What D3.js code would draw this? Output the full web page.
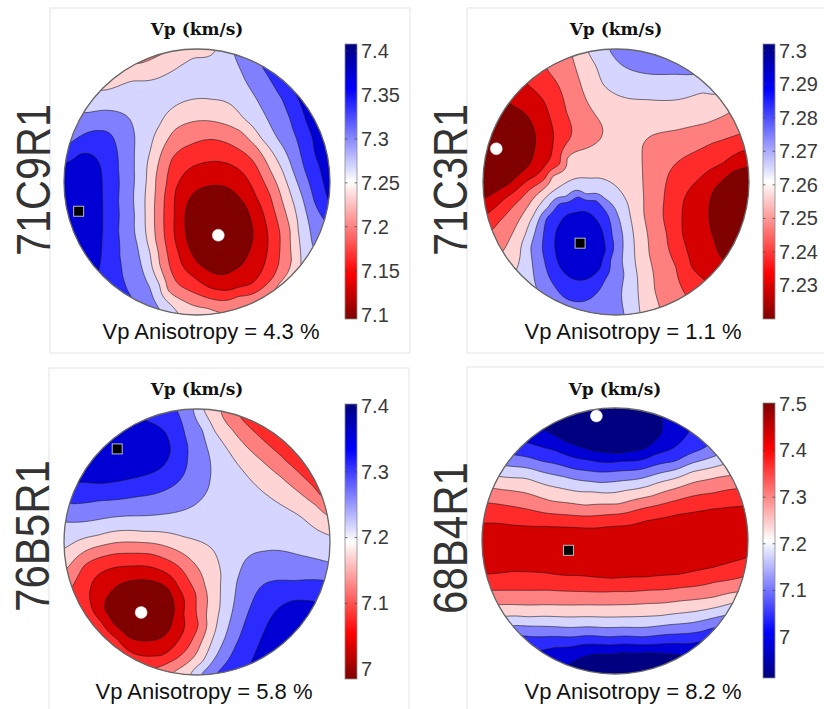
<!DOCTYPE html>
<html>
<head>
<meta charset="utf-8">
<script src="https://cdn.jsdelivr.net/npm/d3@7"></script>
<style>
  body { margin: 0; background: #fff; }
  svg { display: block; font-family: "Liberation Sans", Arial, sans-serif; }
</style>
</head>
<body>
<svg id="chart" width="824" height="709"></svg>
<script>
// Vp pole figures (lower hemisphere), four samples
// positions below are in % of the stereonet radius (x right, y down)

const sampleIds = ['71C9R1', '71C3R1', '76B5R1', '68B4R1'];
const vpLimits = [[7.095, 7.408], [7.220, 7.302], [6.985, 7.403], [6.912, 7.502]];
const anisotropy = ['4.3', '1.1', '5.8', '8.2'];
const cbTicks = [
    [7.1, 7.15, 7.2, 7.25, 7.3, 7.35, 7.4],
    [7.23, 7.24, 7.25, 7.26, 7.27, 7.28, 7.29, 7.3],
    [7, 7.1, 7.2, 7.3, 7.4],
    [7, 7.1, 7.2, 7.3, 7.4, 7.5]
];
const reversedMap = [false, false, false, true];
const vpMinPos = [[16, 40], [-90, -25], [-42, 53], [-14, -94]];
const vpMaxPos = [[-89, 22], [-27, 46], [-60, -70], [-35, 7]];

// contour traces: [level index (1..8), points]
const iso71C9R1 = [
    [1, [[-9,25],[-3,9],[10,3],[26,6],[37,19],[42,38],[38,55],[28,66],[14,69],[1,61],[-7,46]]],
    [2, [[-17,25],[-16,6],[-7,-9],[8,-15],[23,-14],[36,-5],[45,12],[52,32],[53,51],[49,66],[40,77],[26,81],[11,80],[-3,71],[-14,53]]],
    [3, [[-25,25],[-23,2],[-19,-17],[-5,-28],[11,-32],[29,-26],[44,-13],[55,10],[61,32],[62,55],[57,72],[46,82],[31,86],[11,88],[-5,82],[-19,68],[-23,50]]],
    [4, [[-32,25],[-31,-2],[-26,-24],[-17,-39],[1,-46],[19,-44],[33,-38],[45,-26],[55,-9],[64,14],[70,36],[71,59],[62,76],[48,90],[35,99],[22,99],[8,95],[-7,91],[-22,81],[-28,62],[-31,44]]],
    [5, [[-13,104],[-14,99],[-20,92],[-28,78],[-35,55],[-39,25],[-38,-2],[-35,-24],[-28,-43],[-18,-56],[-4,-62],[12,-62],[27,-57],[36,-47],[49,-32],[64,-9],[72,14],[76,36],[78,55],[78,62],[80,66]]],
    [5, [[-77,-72],[-73,-69],[-62,-71],[-48,-76],[-23,-81],[-13,-87],[-3,-93],[14,-99],[16,-104]]],
    [4, [[-50,-90],[-45,-89],[-35,-92],[-25,-97],[-20,-100]]],
    [6, [[-88,-54],[-85,-52],[-70,-54],[-55,-51],[-48,-41],[-47,-24],[-47,-2],[-47,25],[-45,47],[-41,66],[-35,81],[-28,96],[-26,101]]],
    [6, [[27,-100],[28,-96],[31,-88],[36,-77],[45,-62],[53,-47],[61,-32],[72,-9],[80,14],[85,36],[87,48],[90,52]]],
    [7, [[-99,-30],[-96,-29],[-80,-38],[-66,-37],[-61,-28],[-59,-9],[-59,14],[-59,36],[-58,55],[-56,70],[-52,82],[-49,87],[-47,92]]],
    [7, [[47,-92],[49,-87],[55,-77],[64,-62],[70,-47],[75,-32],[81,-9],[88,14],[96,29],[99,33]]],
    [8, [[-102,-14],[-99,-14],[-88,-21],[-77,-19],[-72,-9],[-71,14],[-71,36],[-72,55],[-74,67],[-76,72]]],
    [8, [[72,-71],[74,-67],[78,-58],[82,-46],[87,-32],[92,-12],[97,8],[99,14],[102,18]]]
];
const spot71C9R1 = [[93, -22, 8.4], [-60, -62, 5.5], [-20, -71, 5.3], [25, -82, 5.5]];

const iso71C3R1 = [
    [1, [[-84,-62],[-80,-59],[-67,-50],[-61,-37],[-62,-22],[-69,-9],[-80,1],[-93,9],[-99,12],[-103,13]]],
    [1, [[101,-11],[98,-11],[87,-7],[75,4],[70,24],[74,44],[80,58],[84,62]]],
    [2, [[-70,-77],[-67,-74],[-55,-62],[-48,-42],[-48,-24],[-55,-10],[-68,0],[-83,12],[-93,21],[-97,24],[-100,26]]],
    [2, [[100,-25],[97,-24],[80,-14],[62,-2],[51,14],[50,39],[57,64],[67,74],[70,77]]],
    [3, [[-53,-88],[-52,-85],[-43,-72],[-37,-52],[-35,-32],[-42,-14],[-53,-3],[-64,5],[-78,19],[-88,30],[-93,36],[-96,38]]],
    [3, [[96,-37],[93,-36],[72,-29],[52,-19],[40,-7],[36,14],[38,39],[45,64],[53,86],[55,90]]],
    [4, [[-34,-98],[-33,-95],[-27,-75],[-18,-54],[-10,-40],[-12,-32],[-23,-25],[-37,-17],[-48,-4],[-59,9],[-70,24],[-78,39],[-85,52],[-88,55]]],
    [4, [[88,-54],[85,-52],[67,-44],[45,-39],[27,-35],[20,-27],[20,-7],[21,24],[25,54],[29,80],[33,95],[34,99]]],
    [5, [[-22,-102],[-21,-98],[-15,-87],[-10,-74],[2,-65],[22,-62],[47,-62],[65,-67],[75,-66],[78,-68]]],
    [5, [[-78,69],[-75,66],[-72,55],[-68,39],[-62,25],[-55,14],[-43,4],[-28,-3],[-13,-3],[1,4],[9,17],[13,39],[15,64],[18,98],[19,102]]],
    [6, [[-5,-103],[-5,-100],[2,-90],[12,-84],[27,-81],[45,-81],[59,-81],[62,-82]]],
    [6, [[-61,82],[-59,81],[-62,69],[-64,49],[-59,31],[-51,19],[-38,11],[-23,9],[-9,12],[1,24],[5,40],[6,69],[6,99],[6,102]]],
    [7, [[-55,44],[-52,27],[-42,16],[-28,11],[-15,14],[-6,25],[-3,40],[-4,58],[-8,73],[-16,85],[-28,90],[-41,85],[-50,72],[-54,58]]],
    [8, [[-46,47],[-42,31],[-30,23],[-17,26],[-10,38],[-8,52],[-12,65],[-22,73],[-34,72],[-43,62]]]
];
const spot71C3R1 = [[3, -25, 4.5], [27, -90, 6.4], [90, 20, 0.4]];

const iso76B5R1 = [
    [8, [[-95,-44],[-89,-45],[-73,-44],[-48,-48],[-28,-55],[-20,-69],[-23,-81],[-33,-89],[-40,-92],[-44,-96]]],
    [7, [[-99,-30],[-96,-29],[-73,-31],[-45,-34],[-24,-39],[-11,-49],[-7,-64],[-9,-80],[-15,-99],[-16,-102]]],
    [6, [[-102,-15],[-99,-15],[-68,-18],[-35,-20],[-10,-24],[4,-33],[10,-48],[9,-66],[4,-84],[-3,-100],[-4,-103]]],
    [5, [[5,-103],[5,-100],[13,-84],[24,-68],[35,-53],[47,-40],[60,-30],[78,-19],[100,-5],[103,-4]]],
    [4, [[18,-101],[18,-98],[26,-85],[37,-72],[50,-60],[63,-49],[76,-38],[89,-28],[98,-20],[101,-19]]],
    [3, [[32,-98],[32,-95],[42,-84],[55,-72],[68,-60],[80,-49],[89,-40],[94,-34],[97,-33]]],
    [1, [[-69,51],[-65,38],[-53,30],[-35,29],[-21,36],[-17,51],[-21,66],[-35,74],[-52,71],[-62,62]]],
    [2, [[-80,46],[-79,31],[-68,21],[-48,18],[-28,21],[-14,34],[-10,54],[-14,74],[-26,85],[-44,85],[-60,73],[-72,60]]],
    [3, [[-97,37],[-94,34],[-85,18],[-62,9],[-35,9],[-13,19],[-1,39],[1,62],[-6,78],[-16,88],[-32,95],[-35,98]]],
    [4, [[-101,21],[-98,20],[-80,5],[-50,0],[-24,3],[-4,14],[6,33],[7,56],[3,76],[-6,90],[-18,98],[-19,101]]],
    [5, [[-103,5],[-100,5],[-75,-5],[-40,-8],[-10,-4],[12,6],[18,25],[17,50],[12,72],[4,90],[-5,100],[-5,103]]],
    [6, [[102,15],[99,15],[78,10],[50,7],[36,14],[30,30],[27,50],[21,72],[13,88],[3,100],[3,103]]],
    [7, [[99,30],[96,29],[73,29],[50,32],[42,44],[36,60],[29,78],[21,92],[15,99],[15,102]]],
    [8, [[92,46],[89,45],[73,44],[60,51],[52,64],[46,78],[41,90],[39,95]]]
];
const spot76B5R1 = [[72, -66, 2.5], [68, 68, 8.6], [25, -6, 5.5]];

const iso68B4R1 = [
    [1, [[-52,-83],[-37,-75],[-17,-68],[3,-66],[23,-70],[34,-80],[35,-94]]],
    [2, [[-66,-74],[-45,-68],[-20,-61],[5,-60],[30,-65],[50,-75],[57,-85]]],
    [3, [[-77,-65],[-55,-60],[-30,-54],[-5,-52],[20,-54],[45,-60],[65,-69]]],
    [4, [[-85,-57],[-62,-54],[-37,-48],[-12,-44],[13,-46],[38,-52],[63,-60],[78,-65]]],
    [5, [[-90,-49],[-67,-47],[-42,-40],[-17,-37],[8,-38],[33,-44],[58,-52],[83,-58]]],
    [6, [[-95,-40],[-72,-37],[-47,-30],[-22,-27],[3,-28],[28,-34],[53,-42],[78,-48],[92,-50]]],
    [7, [[-100,-29],[-77,-26],[-52,-21],[-27,-19],[-2,-20],[23,-25],[48,-31],[73,-36],[98,-40]]],
    [8, [[-101,-13],[-77,-12],[-52,-11],[-27,-10],[-2,-11],[23,-15],[48,-20],[73,-24],[99,-26]]],
    [8, [[-101,25],[-77,23],[-52,24],[-27,26],[-2,28],[23,27],[48,25],[73,20],[100,12]]],
    [7, [[-97,37],[-75,37],[-50,37],[-25,38],[0,38],[25,37],[50,35],[75,31],[99,26]]],
    [6, [[-92,48],[-70,48],[-45,48],[-20,48],[0,48],[25,47],[50,45],[75,42],[95,38]]],
    [5, [[-86,57],[-65,57],[-40,57],[-15,57],[10,57],[35,56],[60,53],[80,49],[92,46]]],
    [4, [[-80,64],[-60,64],[-35,65],[-10,65],[15,65],[40,63],[65,60],[87,55]]],
    [3, [[-74,71],[-55,72],[-30,72],[-5,72],[20,72],[45,70],[65,68],[80,64]]],
    [2, [[-60,83],[-45,80],[-25,78],[0,78],[25,78],[45,77],[70,74]]],
    [1, [[-38,95],[-28,89],[-12,85],[5,84],[25,84],[42,85],[55,86]]]
];
const spot68B4R1 = [[10, -90, 0.3], [5, 95, 0.3], [20, 5, 8.7], [70, -3, 8.6], [-80, 5, 8.7]];

const isoSets = [iso71C9R1, iso71C3R1, iso76B5R1, iso68B4R1];
const spotSets = [spot71C9R1, spot71C3R1, spot76B5R1, spot68B4R1];

// ---------------------------------------------------------------
const R = 133;
const N = 161;
const EXT = 1.05;
const SMOOTH = 4e-4;
const CB_W = 12, CB_H = 275;
const LAYOUT = [
    { cx: 197, cy: 182, bx: 50, by: 8, cbx: 345, cby: 44, ax: 211, ay: 339, ty: 35, ly: 180 },
    { cx: 616, cy: 182, bx: 467, by: 8, cbx: 763, cby: 44, ax: 633, ay: 339, ty: 35, ly: 180 },
    { cx: 197, cy: 542, bx: 49, by: 368, cbx: 345, cby: 404, ax: 204, ay: 699, ty: 395, ly: 536 },
    { cx: 615, cy: 541, bx: 467, by: 367, cbx: 763, cby: 403, ax: 633, ay: 699, ty: 395, ly: 538 }
];

const cmap = d3.scaleLinear()
    .domain([0, 1 / 6, 0.5, 5 / 6, 1])
    .range(['#800000', '#ff0000', '#ffffff', '#0000ff', '#000080']);

// smoothing thin-plate spline through the read samples
function tps(samples) {
    const n = samples.length, m = n + 3;
    const A = Array.from({ length: m }, () => new Float64Array(m));
    const b = new Float64Array(m);
    const phi = d2 => d2 > 0 ? 0.5 * d2 * Math.log(d2) : 0;
    for (let i = 0; i < n; i++) {
        const [xi, yi, vi] = samples[i];
        for (let j = 0; j < n; j++) {
            const dx = xi - samples[j][0], dy = yi - samples[j][1];
            A[i][j] = phi(dx * dx + dy * dy);
        }
        A[i][i] += SMOOTH;
        A[i][n] = 1; A[i][n + 1] = xi; A[i][n + 2] = yi;
        A[n][i] = 1; A[n + 1][i] = xi; A[n + 2][i] = yi;
        b[i] = vi;
    }
    for (let c = 0; c < m; c++) {
        let p = c;
        for (let r = c + 1; r < m; r++) if (Math.abs(A[r][c]) > Math.abs(A[p][c])) p = r;
        [A[c], A[p]] = [A[p], A[c]];
        [b[c], b[p]] = [b[p], b[c]];
        for (let r = c + 1; r < m; r++) {
            const f = A[r][c] / A[c][c];
            if (!f) continue;
            for (let k = c; k < m; k++) A[r][k] -= f * A[c][k];
            b[r] -= f * b[c];
        }
    }
    const w = new Float64Array(m);
    for (let r = m - 1; r >= 0; r--) {
        let s = b[r];
        for (let k = r + 1; k < m; k++) s -= A[r][k] * w[k];
        w[r] = s / A[r][r];
    }
    return (x, y) => {
        let v = w[n] + w[n + 1] * x + w[n + 2] * y;
        for (let i = 0; i < n; i++) {
            const dx = x - samples[i][0], dy = y - samples[i][1];
            v += w[i] * phi(dx * dx + dy * dy);
        }
        return v;
    };
}

const svg = d3.select('#chart');
const defs = svg.append('defs');

sampleIds.forEach((id, p) => {
    const L = LAYOUT[p];
    const [vmin, vmax] = vpLimits[p];
    const step = (vmax - vmin) / 9;
    const lev = k => vmin + k * step;
    const bandColor = k => cmap(reversedMap[p] ? 1 - k / 9 : k / 9);

    const samples = [];
    isoSets[p].forEach(([k, pts]) => pts.forEach(([u, v]) => samples.push([u / 100, v / 100, lev(k)])));
    spotSets[p].forEach(([u, v, k]) => samples.push([u / 100, v / 100, lev(k)]));
    samples.push([vpMinPos[p][0] / 100, vpMinPos[p][1] / 100, vmin]);
    samples.push([vpMaxPos[p][0] / 100, vpMaxPos[p][1] / 100, vmax]);
    const field = tps(samples);

    const g2u = d3.scaleLinear().domain([0, N - 1]).range([-EXT, EXT]);
    const values = new Float64Array(N * N);
    for (let j = 0; j < N; j++) {
        for (let i = 0; i < N; i++) values[j * N + i] = field(g2u(i), g2u(j));
    }

    const xs = d3.scaleLinear().domain([0.5, N - 0.5]).range([L.cx - EXT * R, L.cx + EXT * R]);
    const ys = d3.scaleLinear().domain([0.5, N - 0.5]).range([L.cy - EXT * R, L.cy + EXT * R]);
    const path = d3.geoPath(d3.geoTransform({
        point(x, y) { this.stream.point(xs(x), ys(y)); }
    }));
    const posX = d3.scaleLinear().domain([-100, 100]).range([L.cx - R, L.cx + R]);
    const posY = d3.scaleLinear().domain([-100, 100]).range([L.cy - R, L.cy + R]);

    const thresholds = d3.range(1, 9).map(lev);
    const contours = d3.contours().size([N, N]).thresholds(thresholds)(values);

    // panel frame
    svg.append('rect')
        .attr('x', L.bx).attr('y', L.by)
        .attr('width', 360).attr('height', 345)
        .attr('fill', 'none')
        .attr('stroke', '#e4e4e4')
        .attr('stroke-width', 1);

    const clipId = 'clip-' + id;
    defs.append('clipPath').attr('id', clipId)
        .append('circle').attr('cx', L.cx).attr('cy', L.cy).attr('r', R);

    const g = svg.append('g').attr('clip-path', `url(#${clipId})`);
    g.append('circle')
        .attr('cx', L.cx).attr('cy', L.cy).attr('r', R)
        .attr('fill', bandColor(0));
    g.selectAll('path.band')
        .data(contours)
        .join('path')
        .attr('class', 'band')
        .attr('d', path)
        .attr('fill', (d, i) => bandColor(i + 1))
        .attr('stroke', '#1a1a1a')
        .attr('stroke-width', 0.6)
        .attr('stroke-linejoin', 'round');

    svg.append('circle')
        .attr('cx', L.cx).attr('cy', L.cy).attr('r', R)
        .attr('fill', 'none')
        .attr('stroke', '#666')
        .attr('stroke-width', 1.3);

    // Vp min (white dot) and max (black square)
    svg.append('circle')
        .attr('cx', posX(vpMinPos[p][0])).attr('cy', posY(vpMinPos[p][1]))
        .attr('r', 6)
        .attr('fill', '#fff')
        .attr('stroke', '#ddd')
        .attr('stroke-width', 0.5);
    svg.append('rect')
        .attr('x', posX(vpMaxPos[p][0]) - 5).attr('y', posY(vpMaxPos[p][1]) - 5)
        .attr('width', 10).attr('height', 10)
        .attr('fill', '#000')
        .attr('stroke', '#bbb')
        .attr('stroke-width', 1);

    svg.append('text')
        .attr('x', L.cx).attr('y', L.ty)
        .attr('text-anchor', 'middle')
        .attr('font-family', '"DejaVu Serif", "Liberation Serif", serif')
        .attr('font-weight', 'bold')
        .attr('font-size', '17px')
        .attr('fill', '#111')
        .text('Vp (km/s)');

    svg.append('text')
        .attr('x', L.ax).attr('y', L.ay)
        .attr('text-anchor', 'middle')
        .attr('font-size', '22px')
        .attr('fill', '#111')
        .text(`Vp Anisotropy = ${anisotropy[p]} %`);

    svg.append('text')
        .attr('transform', `translate(${L.bx},${L.ly}) rotate(-90)`)
        .attr('text-anchor', 'middle')
        .attr('font-size', '48px')
        .attr('textLength', 152)
        .attr('lengthAdjust', 'spacingAndGlyphs')
        .attr('fill', '#333')
        .text(id);

    // colorbar
    const gradId = 'grad-' + id;
    const grad = defs.append('linearGradient').attr('id', gradId)
        .attr('x1', 0).attr('y1', 1).attr('x2', 0).attr('y2', 0);
    grad.selectAll('stop')
        .data(d3.range(0, 1.0001, 0.02))
        .join('stop')
        .attr('offset', d => `${d * 100}%`)
        .attr('stop-color', d => cmap(reversedMap[p] ? 1 - d : d));

    svg.append('rect')
        .attr('x', L.cbx).attr('y', L.cby)
        .attr('width', CB_W).attr('height', CB_H)
        .attr('fill', `url(#${gradId})`)
        .attr('stroke', '#8a8a8a')
        .attr('stroke-width', 0.8);

    const cbScale = d3.scaleLinear().domain([vmin, vmax]).range([L.cby + CB_H, L.cby]);
    [0, CB_W - 2.5].forEach(off => {
        svg.selectAll(null)
            .data(cbTicks[p])
            .join('line')
            .attr('x1', L.cbx + off).attr('x2', L.cbx + off + 2.5)
            .attr('y1', d => cbScale(d)).attr('y2', d => cbScale(d))
            .attr('stroke', '#444').attr('stroke-width', 0.7);
    });

    const axis = d3.axisRight(cbScale)
        .tickValues(cbTicks[p])
        .tickSize(0)
        .tickPadding(4)
        .tickFormat(d => String(+d.toFixed(2)));
    svg.append('g')
        .attr('transform', `translate(${L.cbx + CB_W},0)`)
        .call(axis)
        .call(a => a.select('.domain').remove())
        .call(a => a.selectAll('text')
            .attr('font-family', '"Liberation Sans", Arial, sans-serif')
            .attr('font-size', '20px')
            .attr('fill', '#3a3a3a'));
});
</script>
</body>
</html>
